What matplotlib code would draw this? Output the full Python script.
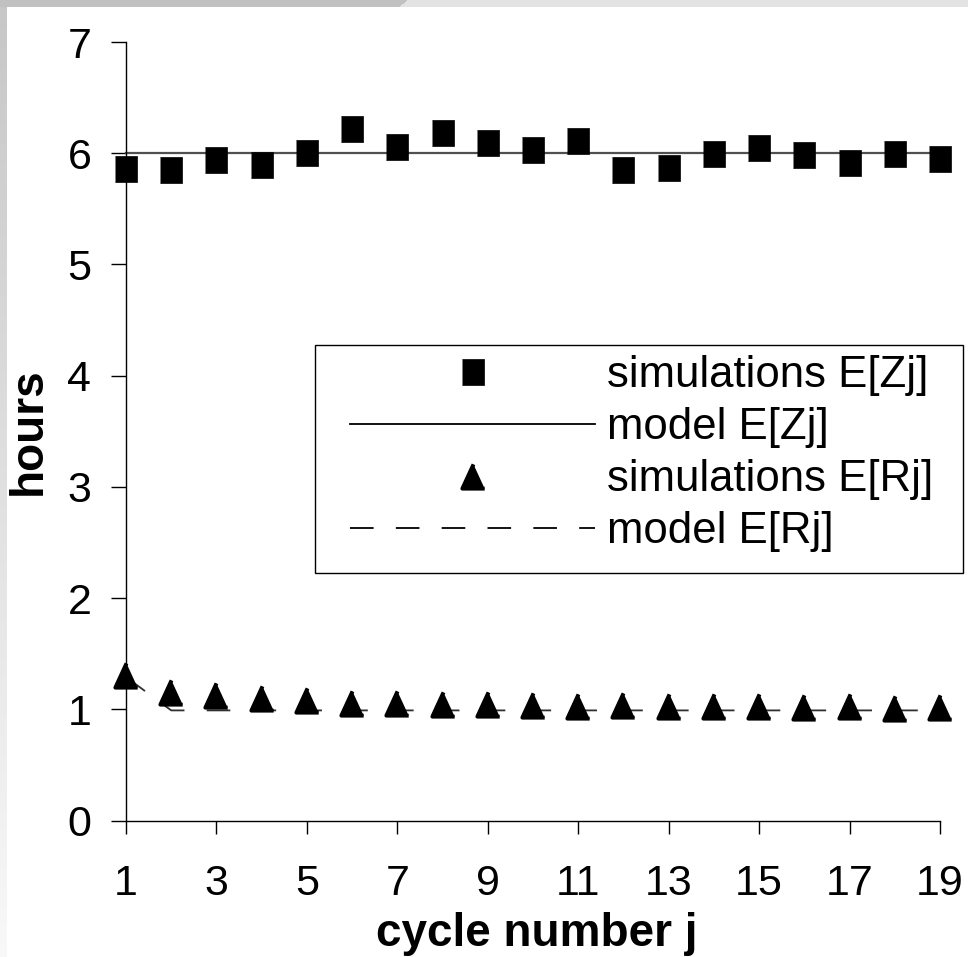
import numpy as np
import matplotlib
matplotlib.use("Agg")
import matplotlib.pyplot as plt
from matplotlib import font_manager as fm
from matplotlib.lines import Line2D
from matplotlib.markers import MarkerStyle
from matplotlib.patches import Rectangle

# ---- data ----
cycles = list(range(1, 20))
sim_Z = [5.86, 5.85, 5.94, 5.89, 6.00, 6.22, 6.06, 6.18, 6.09, 6.03,
         6.11, 5.85, 5.87, 5.99, 6.05, 5.98, 5.91, 5.99, 5.95]
model_Z = [6.0, 6.0, 6.0, 6.0, 6.0, 6.0, 6.0, 6.0, 6.0, 6.0,
           6.0, 6.0, 6.0, 6.0, 6.0, 6.0, 6.0, 6.0, 6.0]
sim_R = [1.31, 1.155, 1.13, 1.10, 1.08, 1.06, 1.06, 1.05, 1.05, 1.04,
         1.03, 1.04, 1.03, 1.03, 1.03, 1.02, 1.03, 1.01, 1.02]
model_R = [1.29, 0.99, 0.99, 0.99, 0.99, 0.99, 0.99, 0.99, 0.99, 0.99,
           0.99, 0.99, 0.99, 0.99, 0.99, 0.99, 0.99, 0.99, 0.99]
xticks = [1, 3, 5, 7, 9, 11, 13, 15, 17, 19]
yticks = [0, 1, 2, 3, 4, 5, 6, 7]
labels = ["simulations E[Zj]", "model E[Zj]", "simulations E[Rj]", "model E[Rj]"]

plt.rcParams['font.family'] = ['Liberation Sans', 'DejaVu Sans']
plt.rcParams['lines.scale_dashes'] = False

installed = {f.name for f in fm.fontManager.ttflist}
if 'Liberation Sans Narrow' in installed:
    lab_font = dict(family=['Liberation Sans Narrow', 'DejaVu Sans'], weight='bold', size=37)
else:
    lab_font = dict(family=['Liberation Sans', 'DejaVu Sans'], weight='bold', size=33)

W, H = 968, 957
fig = plt.figure(figsize=(W / 100, H / 100), dpi=100, facecolor='white')

# slide-like background decoration
bg = np.ones((H, W, 3))
cols = np.arange(W)
for r in range(7):
    edge = 407 - r * 1.3
    bg[r, cols < edge] = 0.76
    bg[r, cols >= edge] = 0.894
grad = np.linspace(0.78, 0.975, H - 7)
for c in range(7):
    for k in range(3):
        bg[7:, c, k] = grad
fig.figimage(bg, xo=0, yo=0, origin='upper', zorder=-5)

ax = fig.add_axes([126 / W, 1 - 820.5 / H, (940 - 126) / W, (820.5 - 42) / H])
ax.set_facecolor('none')
ax.set_zorder(2)

sq = MarkerStyle([(-0.44, -0.5), (0.44, -0.5), (0.44, 0.5), (-0.44, 0.5)])
tri = MarkerStyle([(0, 0.5), (-0.46, -0.5), (0.46, -0.5)], joinstyle='round')
DASH = (17, 16)

ax.plot(cycles, model_Z, color='#505050', lw=1.6, zorder=2, clip_on=False)
ax.plot(cycles, model_R, color='#303030', lw=1.3, dashes=DASH, zorder=2, clip_on=False)
ax.plot(cycles, sim_Z, ls='none', marker=sq, ms=18.5, mfc='black', mec='black', mew=0.5,
        zorder=3, clip_on=False)
ax.plot(cycles, sim_R, ls='none', marker=tri, ms=17.5, mfc='black', mec='black', mew=2.8,
        zorder=3, clip_on=False)

ax.set_xlim(1, 19)
ax.set_ylim(0, 7)
ax.set_xticks(xticks)
ax.set_yticks(yticks)
for s in ['top', 'right']:
    ax.spines[s].set_visible(False)
for s in ['left', 'bottom']:
    ax.spines[s].set_linewidth(1.0)
    ax.spines[s].set_color('black')
ax.tick_params(axis='y', direction='out', length=11, width=1, pad=14, labelsize=31)
ax.tick_params(axis='x', direction='out', length=9.5, width=1, pad=22, labelsize=31)

xl = ax.set_xlabel("cycle number j", fontdict=lab_font)
xl.set_va('baseline')
ax.xaxis.set_label_coords((537 - 126) / 814, (820.5 - 946) / 778.5)
yl = ax.set_ylabel("hours", fontdict=lab_font)
yl.set_va('center')
ax.yaxis.set_label_coords((29 - 126) / 814, 0.5)

# legend
handles = [
    Line2D([], [], ls='none', marker=sq, ms=18.5, mfc='black', mec='black', mew=0.5),
    Line2D([], [], color='black', lw=1.3),
    Line2D([], [], ls='none', marker=tri, ms=17.5, mfc='black', mec='black', mew=2.8),
    Line2D([], [], color='black', lw=1.3, dashes=DASH),
]
fig.add_artist(Rectangle((315 / W, 1 - 573 / H), (963 - 315) / W, (573 - 345) / H,
                         transform=fig.transFigure, fill=False, edgecolor='black', lw=1.0,
                         zorder=3))
leg = fig.legend(handles, labels, loc='upper left',
                 bbox_to_anchor=(350 / W, 1 - 355 / H), bbox_transform=fig.transFigure,
                 frameon=False, borderpad=0, borderaxespad=0, fontsize=31.5,
                 handlelength=5.6, handletextpad=0.28, labelspacing=0.25, numpoints=1)
leg.set_zorder(3)

fig.savefig("out.png", dpi=100, facecolor='white')
